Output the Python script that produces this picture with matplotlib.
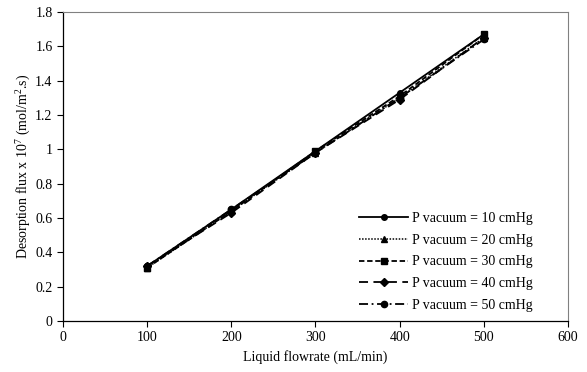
import matplotlib
matplotlib.use('Agg')
from matplotlib import pyplot as plt

plt.rcParams['font.family'] = ['Liberation Serif', 'DejaVu Serif']
plt.rcParams['mathtext.fontset'] = 'custom'
plt.rcParams['mathtext.rm'] = 'Liberation Serif'

flowrate = [100, 200, 300, 400, 500]
flux_10 = [0.32, 0.65, 0.99, 1.33, 1.67]
flux_20 = [0.31, 0.64, 0.98, 1.30, 1.65]
flux_30 = [0.31, 0.64, 0.99, 1.31, 1.67]
flux_40 = [0.32, 0.63, 0.98, 1.29, 1.65]
flux_50 = [0.32, 0.65, 0.98, 1.30, 1.64]
labels = ['P vacuum = 10 cmHg', 'P vacuum = 20 cmHg', 'P vacuum = 30 cmHg',
          'P vacuum = 40 cmHg', 'P vacuum = 50 cmHg']

fig = plt.figure(figsize=(5.87, 3.72), dpi=100)
ax = fig.add_axes([0.1073, 0.1371, 0.8603, 0.8306])

ax.plot(flowrate, flux_10, color='black', lw=1.3, ls='-', marker='o', ms=4, label=labels[0])
ax.plot(flowrate, flux_20, color='black', lw=1.1, ls=(0, (1, 1)), marker='^', ms=4.5, label=labels[1])
ax.plot(flowrate, flux_30, color='black', lw=1.3, ls=(0, (3, 1.5)), marker='s', ms=4.5, label=labels[2])
ax.plot(flowrate, flux_40, color='black', lw=1.3, ls=(0, (5, 3)), marker='D', ms=4, label=labels[3])
ax.plot(flowrate, flux_50, color='black', lw=1.3, ls=(0, (5, 2, 1, 2)), marker='o', ms=4.5, label=labels[4])

ax.set_xlim(0, 600)
ax.set_ylim(0, 1.8)
ax.set_xticks([0, 100, 200, 300, 400, 500, 600])
ax.set_yticks([0, 0.2, 0.4, 0.6, 0.8, 1, 1.2, 1.4, 1.6, 1.8])
ax.set_yticklabels(['0', '0.2', '0.4', '0.6', '0.8', '1', '1.2', '1.4', '1.6', '1.8'])
ax.tick_params(direction='out', length=4, width=0.8, labelsize=10, colors='black')

for side in ['top', 'right']:
    ax.spines[side].set_color('#808080')
    ax.spines[side].set_linewidth(0.8)
for side in ['left', 'bottom']:
    ax.spines[side].set_color('black')
    ax.spines[side].set_linewidth(0.9)

ax.set_xlabel('Liquid flowrate (mL/min)', fontsize=10, labelpad=4)
ax.set_ylabel('Desorption flux x 10$^{7}$ (mol/m$^{2}$.s)', fontsize=10, labelpad=2)

ax.legend(loc='lower right', bbox_to_anchor=(0.955, -0.01), frameon=False, fontsize=10,
          handlelength=3.5, handletextpad=0.3, labelspacing=0.62)

fig.savefig('out.png', dpi=100)
